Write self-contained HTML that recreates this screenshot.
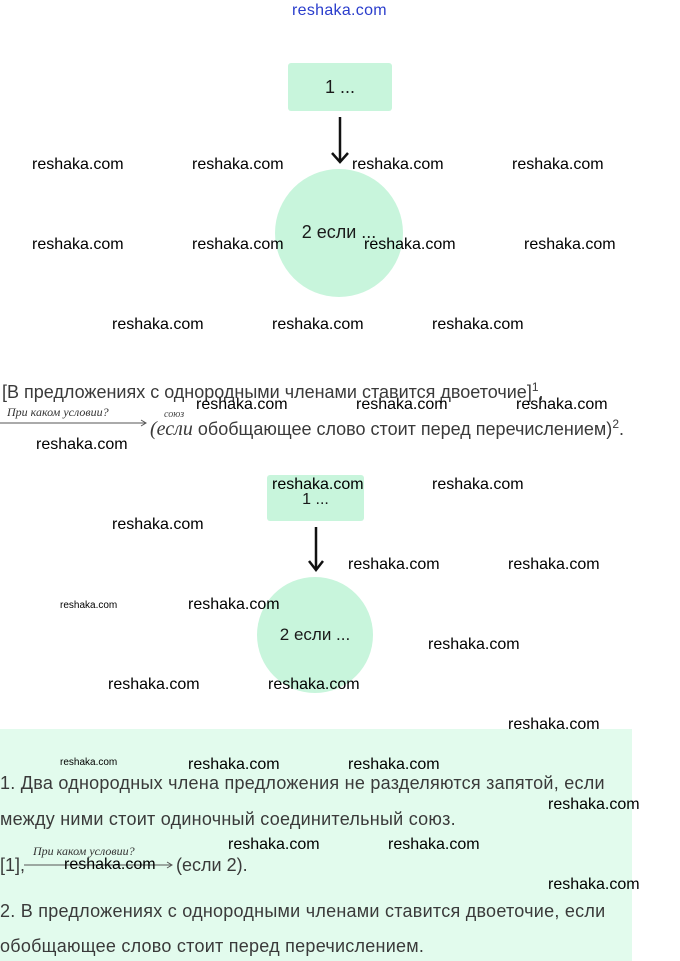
<!DOCTYPE html>
<html><head><meta charset="utf-8"><style>
body{margin:0;width:680px;height:961px;background:#fff;position:relative;overflow:hidden;font-family:"Liberation Sans",sans-serif}
.a{position:absolute}
.w{position:absolute;font-size:16px;color:#000;line-height:16px;white-space:nowrap}
.s{font-size:10px;line-height:10px}
.t{position:absolute;font-size:18px;color:#3a3a3a;white-space:nowrap;line-height:20px}
.g{background:#c8f5dc}
.i{font-family:"Liberation Serif",serif;font-style:italic}
.n{font-size:18px;color:#1a1a1a}
</style></head><body>
<div class="a" style="left:292px;top:2px;color:#2a3dcc;font-size:16px;letter-spacing:0.3px">reshaka.com</div>

<div class="a g" style="left:288px;top:63px;width:104px;height:48px;border-radius:3px"></div>
<div class="a n" style="left:288px;top:77px;width:104px;text-align:center">1 ...</div>
<svg class="a" style="left:330px;top:115px" width="20" height="50"><line x1="10" y1="2" x2="10" y2="46" stroke="#111" stroke-width="2.5"/><polyline points="2,38 10,47 18,38" fill="none" stroke="#111" stroke-width="2.5"/></svg>
<div class="a g" style="left:275px;top:169px;width:128px;height:128px;border-radius:50%"></div>
<div class="a n" style="left:275px;top:222px;width:128px;text-align:center">2 если ...</div>

<div class="t" style="left:2px;top:377px">[В предложениях с однородными членами ставится двоеточие]<sup style="font-size:12px">1</sup>,</div>
<div class="a i" style="left:7px;top:405px;font-size:12px;color:#333">При каком условии?</div>
<svg class="a" style="left:0;top:418px" width="150" height="10"><line x1="0" y1="5" x2="146" y2="5" stroke="#555"/><polyline points="141,2 146,5 141,8" fill="none" stroke="#555"/></svg>
<div class="a i" style="left:164px;top:409px;font-size:10px;color:#444">союз</div>
<div class="t" style="left:150px;top:414px"><span class="i" style="font-size:20px">(если</span> обобщающее слово стоит перед перечислением)<sup style="font-size:12px">2</sup>.</div>

<div class="a g" style="left:267px;top:475px;width:97px;height:46px;border-radius:3px"></div>
<div class="a" style="left:267px;top:491px;width:97px;text-align:center;font-size:16px;color:#1a1a1a">1 ...</div>
<svg class="a" style="left:306px;top:525px" width="20" height="48"><line x1="10" y1="2" x2="10" y2="44" stroke="#111" stroke-width="2.5"/><polyline points="3,36 10,45 17,36" fill="none" stroke="#111" stroke-width="2.5"/></svg>
<div class="a g" style="left:257px;top:577px;width:116px;height:116px;border-radius:50%"></div>
<div class="a" style="left:257px;top:625px;width:116px;text-align:center;font-size:17px;color:#1a1a1a">2 если ...</div>

<div class="a" style="left:0;top:729px;width:632px;height:232px;background:#e2fbed"></div>
<div class="t" style="left:0;top:773px;letter-spacing:0.25px">1. Два однородных члена предложения не разделяются запятой, если</div>
<div class="t" style="left:0;top:809px;letter-spacing:0.25px">между ними стоит одиночный соединительный союз.</div>
<div class="t" style="left:0;top:855px">[1],</div>
<div class="a i" style="left:33px;top:844px;font-size:12px;color:#333">При каком условии?</div>
<svg class="a" style="left:24px;top:860px" width="152" height="10"><line x1="0" y1="5" x2="148" y2="5" stroke="#555"/><polyline points="143,2 148,5 143,8" fill="none" stroke="#555"/></svg>
<div class="t" style="left:176px;top:855px">(если 2).</div>
<div class="t" style="left:0;top:901px;letter-spacing:0.25px">2. В предложениях с однородными членами ставится двоеточие, если</div>
<div class="t" style="left:0;top:936px;letter-spacing:0.25px">обобщающее слово стоит перед перечислением.</div>

<div class="w" style="left:32px;top:157px">reshaka.com</div><div class="w" style="left:192px;top:157px">reshaka.com</div><div class="w" style="left:352px;top:157px">reshaka.com</div><div class="w" style="left:512px;top:157px">reshaka.com</div>
<div class="w" style="left:32px;top:237px">reshaka.com</div><div class="w" style="left:192px;top:237px">reshaka.com</div><div class="w" style="left:364px;top:237px">reshaka.com</div><div class="w" style="left:524px;top:237px">reshaka.com</div>
<div class="w" style="left:112px;top:317px">reshaka.com</div><div class="w" style="left:272px;top:317px">reshaka.com</div><div class="w" style="left:432px;top:317px">reshaka.com</div>
<div class="w" style="left:196px;top:397px">reshaka.com</div><div class="w" style="left:356px;top:397px">reshaka.com</div><div class="w" style="left:516px;top:397px">reshaka.com</div>
<div class="w" style="left:36px;top:437px">reshaka.com</div>
<div class="w" style="left:272px;top:477px">reshaka.com</div><div class="w" style="left:432px;top:477px">reshaka.com</div>
<div class="w" style="left:112px;top:517px">reshaka.com</div>
<div class="w" style="left:348px;top:557px">reshaka.com</div><div class="w" style="left:508px;top:557px">reshaka.com</div>
<div class="w s" style="left:60px;top:601px">reshaka.com</div><div class="w" style="left:188px;top:597px">reshaka.com</div>
<div class="w" style="left:428px;top:637px">reshaka.com</div>
<div class="w" style="left:108px;top:677px">reshaka.com</div><div class="w" style="left:268px;top:677px">reshaka.com</div>
<div class="w" style="left:508px;top:717px">reshaka.com</div>
<div class="w s" style="left:60px;top:758px">reshaka.com</div><div class="w" style="left:188px;top:757px">reshaka.com</div><div class="w" style="left:348px;top:757px">reshaka.com</div>
<div class="w" style="left:548px;top:797px">reshaka.com</div>
<div class="w" style="left:228px;top:837px">reshaka.com</div><div class="w" style="left:388px;top:837px">reshaka.com</div>
<div class="w" style="left:64px;top:857px">reshaka.com</div>
<div class="w" style="left:548px;top:877px">reshaka.com</div>
</body></html>
